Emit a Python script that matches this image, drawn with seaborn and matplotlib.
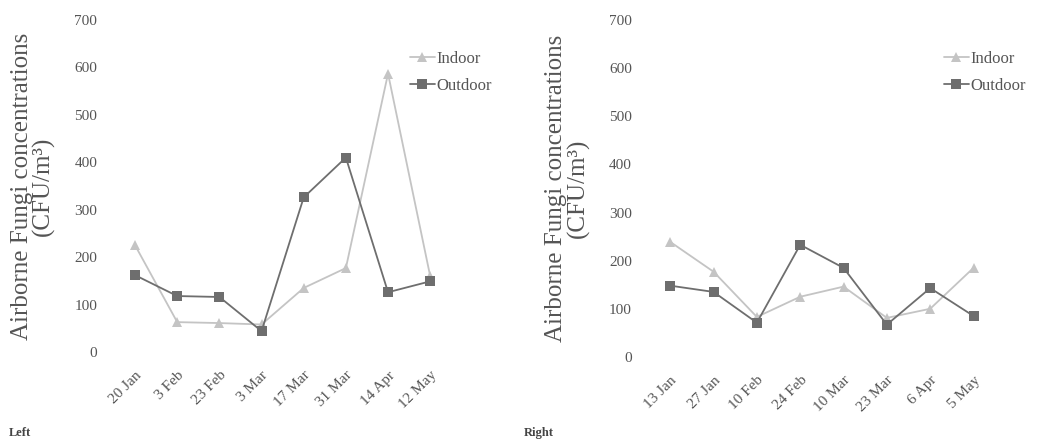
import matplotlib
matplotlib.use("Agg")
import matplotlib.pyplot as plt
import pandas as pd
import seaborn as sns

# sampling dates for each site
left_dates = ["20 Jan", "3 Feb", "23 Feb", "3 Mar", "17 Mar", "31 Mar", "14 Apr", "12 May"]
right_dates = ["13 Jan", "27 Jan", "10 Feb", "24 Feb", "10 Mar", "23 Mar", "6 Apr", "5 May"]

# CFU/m3
left_indoor = [225, 63, 61, 58, 135, 177, 587, 160]
left_outdoor = [162, 118, 116, 44, 326, 410, 126, 149]
right_indoor = [239, 177, 83, 125, 146, 81, 100, 185]
right_outdoor = [148, 135, 71, 233, 185, 67, 143, 85]

y_ticks = [0, 100, 200, 300, 400, 500, 600, 700]
y_label = "Airborne Fungi concentrations\n(CFU/m\u00b3)"

sns.set_theme(style="white")
plt.rcParams["font.family"] = ["Liberation Serif", "DejaVu Serif"]

palette = {"Indoor": "#c4c4c4", "Outdoor": "#6e6e6e"}
markers = {"Indoor": "^", "Outdoor": "s"}


def long_frame(dates, indoor, outdoor):
    return pd.DataFrame({
        "date": dates * 2,
        "value": indoor + outdoor,
        "site": ["Indoor"] * len(dates) + ["Outdoor"] * len(dates),
    })


fig = plt.figure(figsize=(10.41, 4.45), dpi=100)
ax_left = fig.add_axes([0.1095, 0.209, 0.324, 0.746])
ax_right = fig.add_axes([0.623, 0.198, 0.333, 0.757])

panels = [
    (ax_left, long_frame(left_dates, left_indoor, left_outdoor), left_dates, "Left", 0.008, (0.487, 0.92)),
    (ax_right, long_frame(right_dates, right_indoor, right_outdoor), right_dates, "Right", 0.503, (1.0, 0.92)),
]

for ax, df, dates, tag, tag_x, legend_pos in panels:
    sns.lineplot(
        data=df, x="date", y="value", hue="site", style="site",
        palette=palette, markers=markers, dashes=False, sort=False,
        markersize=7, linewidth=1.3, markeredgewidth=0, ax=ax,
    )
    ax.set_xlim(-0.5, len(dates) - 0.5)
    ax.set_ylim(0, 700)
    ax.set_yticks(y_ticks)
    ax.set_xticks(range(len(dates)))
    ax.set_xticklabels(dates, rotation=45, ha="right", rotation_mode="anchor")
    ax.tick_params(axis="both", labelsize=11, colors="#555555", length=0, pad=12)
    ax.set_xlabel("")
    ax.set_ylabel(y_label, fontsize=18, color="#555555", labelpad=14, linespacing=0.95)
    for spine in ax.spines.values():
        spine.set_visible(False)
    handles, labels = ax.get_legend_handles_labels()
    ax.legend(
        handles, labels, loc="upper right", bbox_to_anchor=legend_pos,
        bbox_transform=fig.transFigure, frameon=False, fontsize=12,
        handlelength=1.5, handletextpad=0.1, labelspacing=0.7,
        labelcolor="#555555",
    )
    fig.text(tag_x, 0.02, tag, fontsize=9, fontweight="bold", color="#444444")

fig.savefig("out.png", dpi=100)
